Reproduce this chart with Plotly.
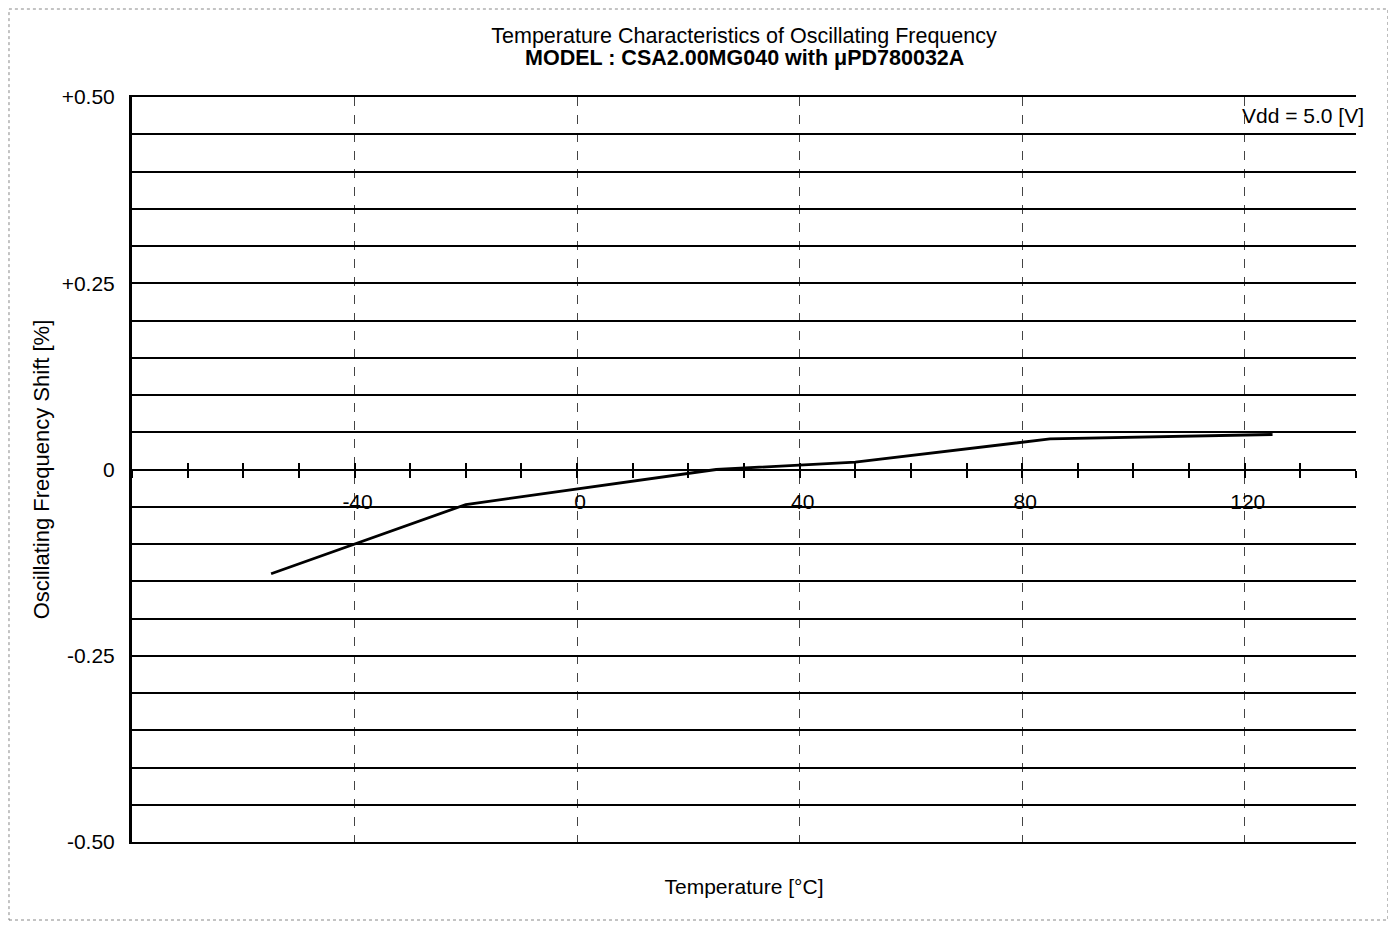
import plotly.graph_objects as go

# ---- data ----
temperature = [-55, -20, 25, 50, 85, 125]
freq_shift = [-0.14, -0.047, 0.0, 0.01, 0.041, 0.047]

x_major_ticks = [-40, 0, 40, 80, 120]
x_minor_ticks = [-80, -70, -60, -50, -40, -30, -20, -10, 0, 10, 20, 30, 40, 50,
                 60, 70, 80, 90, 100, 110, 120, 130, 140]
y_grid_vals = [-0.50, -0.45, -0.40, -0.35, -0.30, -0.25, -0.20, -0.15, -0.10, -0.05,
               0.0, 0.05, 0.10, 0.15, 0.20, 0.25, 0.30, 0.35, 0.40, 0.45, 0.50]
y_label_map = {-0.50: "-0.50", -0.25: "-0.25", 0.0: "0", 0.25: "+0.25", 0.50: "+0.50"}

title_line1 = "Temperature Characteristics of Oscillating Frequency"
title_line2 = "MODEL : CSA2.00MG040 with μPD780032A"
condition_text = "Vdd = 5.0 [V]"

FONT = "Liberation Sans, Arial, Helvetica, sans-serif"
FS = 21
FS_T = 21.5

x_tick_text = [str(v) if v in x_major_ticks else "" for v in x_minor_ticks]
y_tick_text = [y_label_map.get(round(v, 2), "") for v in y_grid_vals]

fig = go.Figure()
fig.add_trace(go.Scatter(
    x=temperature, y=freq_shift, mode="lines",
    line=dict(color="black", width=2.8),
    showlegend=False, hoverinfo="skip",
))
# invisible traces to activate the overlay axes (zero-line axis with crossing ticks)
fig.add_trace(go.Scatter(x=[-80, 140], y=[0, 0], mode="lines", line=dict(width=0),
                         xaxis="x2", showlegend=False, hoverinfo="skip"))
fig.add_trace(go.Scatter(x=[-80, 140], y=[0, 0], mode="lines", line=dict(width=0),
                         xaxis="x3", showlegend=False, hoverinfo="skip"))

fig.update_layout(
    width=1396, height=925,
    margin=dict(l=124, r=48, t=89, b=91),
    paper_bgcolor="white", plot_bgcolor="white",
    font=dict(family=FONT, size=FS, color="black"),
    title=dict(
        text=title_line1,
        x=0.5, xanchor="center", xref="paper",
        y=1 - 27 / 925, yanchor="middle", yref="container",
        font=dict(family=FONT, size=FS_T, color="black"),
    ),
    xaxis=dict(
        range=[-80, 140], anchor="y",
        showline=True, linecolor="black", linewidth=2, mirror=True,
        tickmode="array", tickvals=x_major_ticks, showticklabels=False, ticks="",
        showgrid=True, gridcolor="#444444", gridwidth=1, griddash="dash",
        zeroline=False,
        title=dict(text="Temperature [°C]", standoff=36,
                   font=dict(family=FONT, size=FS)),
    ),
    xaxis2=dict(
        range=[-80, 140], overlaying="x", anchor="free", position=0.5,
        showline=True, linecolor="black", linewidth=2,
        tickmode="array", tickvals=x_minor_ticks, ticktext=x_tick_text,
        ticks="outside", ticklen=7, tickwidth=2, tickcolor="black",
        ticklabelstandoff=6, ticklabelshift=3,
        showgrid=False, zeroline=False,
        tickfont=dict(family=FONT, size=FS),
    ),
    xaxis3=dict(
        range=[-80, 140], overlaying="x", anchor="free", position=0.5,
        showline=False,
        tickmode="array", tickvals=x_minor_ticks, showticklabels=False,
        ticks="inside", ticklen=7, tickwidth=2, tickcolor="black",
        showgrid=False, zeroline=False,
    ),
    yaxis=dict(
        range=[-0.5, 0.5],
        showline=True, linecolor="black", linewidth=3,
        tickmode="array", tickvals=y_grid_vals, ticktext=y_tick_text,
        ticks="", ticklabelstandoff=10,
        showgrid=True, gridcolor="black", gridwidth=1.5,
        zeroline=False,
        title=dict(text="Oscillating Frequency Shift [%]", standoff=6,
                   font=dict(family=FONT, size=22)),
    ),
    annotations=[
        dict(
            text="<b>" + title_line2 + "</b>", xref="paper", yref="paper",
            x=0.5, y=(842 - 58) / 745, xanchor="center", yanchor="middle",
            showarrow=False, font=dict(family=FONT, size=FS_T, color="black"),
        ),
        dict(
            text=condition_text, xref="paper", yref="paper",
            x=1.0082, y=0.9758, xanchor="right", yanchor="middle",
            showarrow=False, font=dict(family=FONT, size=FS, color="black"),
        ),
    ],
    shapes=[dict(
        type="rect", xref="paper", yref="paper",
        x0=-0.1005, x1=1.0261, y0=-0.1047, y1=1.1181,
        line=dict(color="#888888", width=1, dash="dot"), layer="below",
    )],
)

fig.write_html("out.html")
